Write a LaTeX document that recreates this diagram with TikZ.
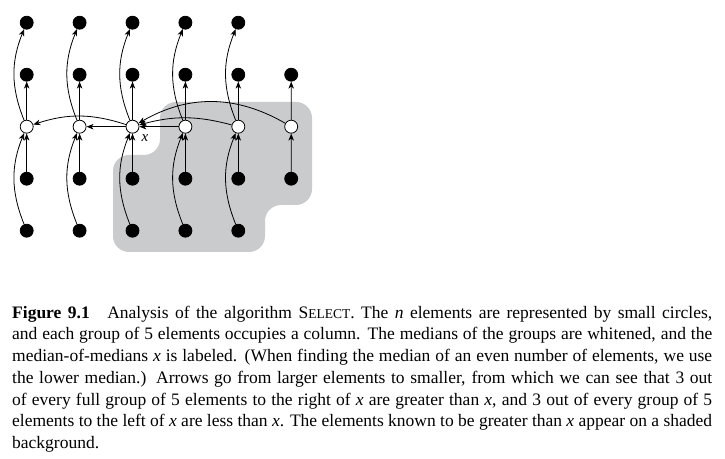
\documentclass[tikz,border=0pt]{standalone}
\usepackage{fontspec}
\setmainfont{Liberation Serif}
\usetikzlibrary{arrows.meta, positioning}
\definecolor{shadegray}{RGB}{202, 203, 205}

\begin{document}
\begin{tikzpicture}[x=1pt, y=1pt,
  elem/.style={circle, draw, fill=black, minimum size=13pt, inner sep=0pt, line width=0.8pt},
  med/.style={elem, fill=white},
  arr/.style={-{Stealth[length=7pt, width=5.5pt, inset=2pt]}, line width=0.8pt}
]
  \useasboundingbox (0,0) rectangle (725,458);

  % Shaded background: elements known to be greater than x
  \fill[shadegray, rounded corners=16pt] (113,250) -- (113,303) -- (160,303) -- (160,356) -- (312,356)
    -- (312,253) -- (265,253) -- (265,206) -- (113,206) -- cycle;

  % Medians of the groups
  \foreach \c in {1,...,6}
    \node[med] (e-\c-3) at ({26.7+52.9*(\c-1)}, 331.3) {};
  % Other elements
  \foreach \c in {1,...,5}
    \foreach \r in {1,2,4,5}
      \node[elem] (e-\c-\r) at ({26.7+52.9*(\c-1)}, {435.3-52*(\r-1)}) {};
  \node[elem] (e-6-2) at (291.2, 383.3) {};
  \node[elem] (e-6-4) at (291.2, 279.3) {};

  % Arrows inside the columns
  \foreach \c in {1,...,5} {
    \draw[arr] (e-\c-4) -- (e-\c-3);
    \draw[arr] (e-\c-5) to[bend left=22] (e-\c-3);
    \draw[arr] (e-\c-3) -- (e-\c-2);
    \draw[arr] (e-\c-3) to[bend left=22] (e-\c-1);
  }
  \draw[arr] (e-6-4) -- (e-6-3);
  \draw[arr] (e-6-3) -- (e-6-2);

  % Arrows between the medians
  \draw[arr] (e-3-3) -- (e-2-3);
  \draw[arr] (e-3-3) to[bend right=18] (e-1-3);
  \draw[arr] (e-4-3) -- (e-3-3);
  \draw[arr] (e-5-3) to[bend right=15] (e-3-3);
  \draw[arr] (e-6-3) to[bend right=30] (e-3-3);

  \node[font=\fontsize{15}{17}\selectfont, inner sep=0pt] (xlab) at ([shift={(12.5,-11.5)}]e-3-3) {\textit{x}};

  % Caption
  \node[anchor=base west, text width=700pt, align=justify, inner sep=0pt,
        font=\fontsize{17.5}{21.7}\selectfont] (caption) at (12, 139.7) {%
    \hyphenpenalty=10000\emergencystretch=20pt
    \textbf{Figure 9.1}\quad Analysis of the algorithm S{\fontsize{13.5}{16}\selectfont ELECT}. The \textit{n} elements are represented by small circles,\linebreak
    and each group of 5 elements occupies a column. The medians of the groups are whitened, and the\linebreak
    median-of-medians \textit{x} is labeled. (When finding the median of an even number of elements, we use\linebreak
    the lower median.) Arrows go from larger elements to smaller, from which we can see that 3 out\linebreak
    of every full group of 5 elements to the right of \textit{x} are greater than \textit{x}, and 3 out of every group of 5\linebreak
    elements to the left of \textit{x} are less than \textit{x}. The elements known to be greater than \textit{x} appear on a shaded\linebreak
    background.};
\end{tikzpicture}
\end{document}
